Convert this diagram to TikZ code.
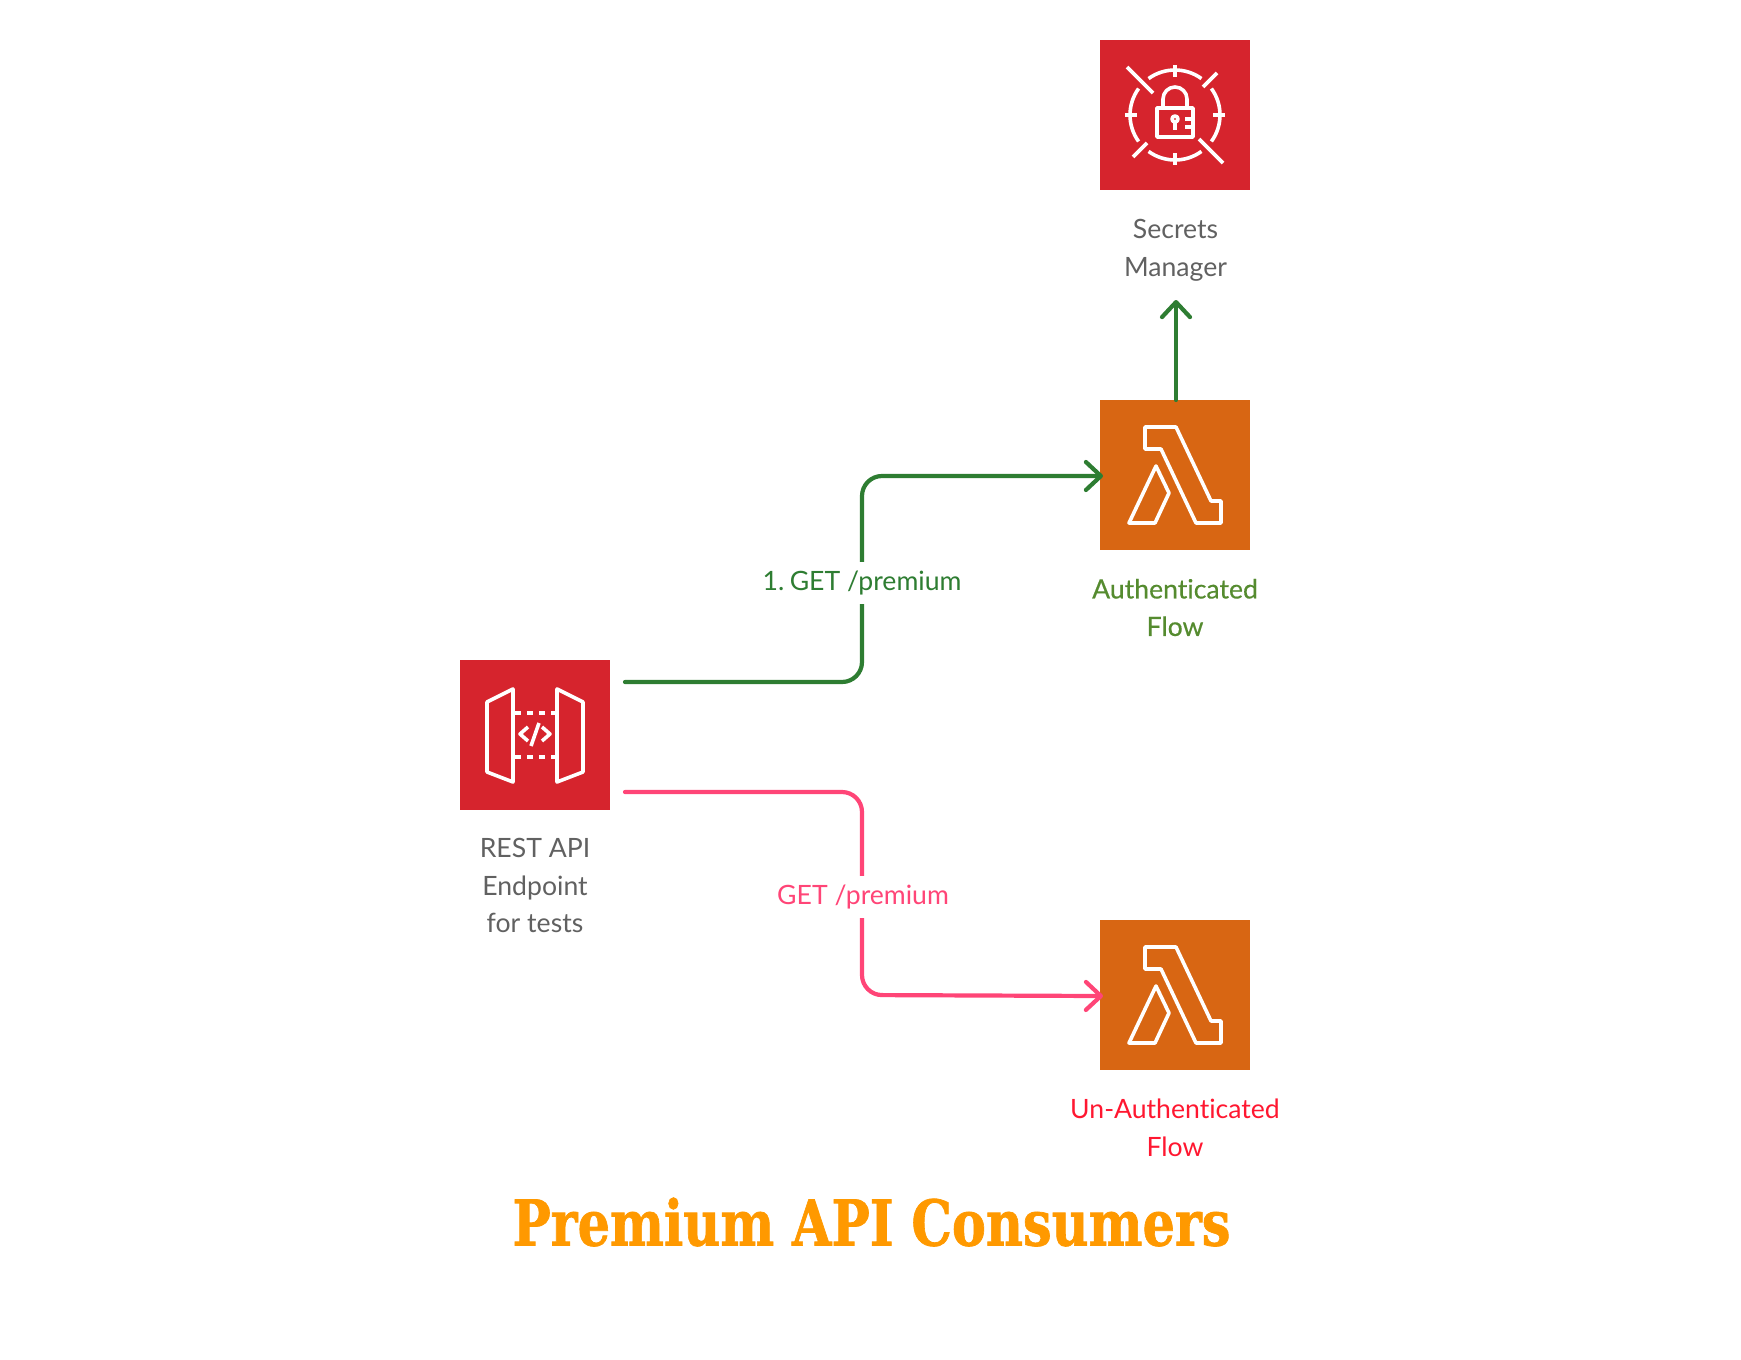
\documentclass[tikz,border=0pt]{standalone}
\usepackage{fontspec}
\setmainfont[Ligatures=NoCommon]{Lato}
\newfontfamily\medfont[Ligatures=NoCommon,FakeBold=0.35]{Lato}
\newfontfamily\titlefont[BoldFeatures={FakeBold=1.2}]{DejaVu Serif}
\usetikzlibrary{arrows.meta}
\definecolor{awsred}{HTML}{D6242D}
\definecolor{awsorange}{HTML}{D86613}
\definecolor{flowgreen}{HTML}{2E7D32}
\definecolor{flowpink}{HTML}{FF4577}
\definecolor{txtgrey}{HTML}{616161}
\definecolor{txtgreen}{HTML}{558B2F}
\definecolor{txtred}{HTML}{FF1730}
\definecolor{titleorange}{HTML}{FF9900}

\newcommand{\lambdaicon}[1]{
  \begin{scope}[shift={(#1)},icon]
    \draw (45,27) -- (76,27) -- (111,101) -- (121,101) -- (121,123) -- (96,123) -- (61,49) -- (45,49) -- cycle;
    \draw (29,123) -- (56,66) -- (69,93) -- (55,123) -- cycle;
  \end{scope}
}

\begin{document}
\begin{tikzpicture}[x=1pt,y=-1pt,
  awsbox/.style={minimum size=150pt,inner sep=0pt,outer sep=0pt},
  icon/.style={draw=white,line width=3.6pt,line join=round},
  lbl/.style={align=center,inner sep=0pt,font=\fontsize{26.6}{37.5}\selectfont},
  flowline/.style={line width=4.2pt,rounded corners=20pt,line cap=round,shorten >=-3pt,-{Straight Barb[round,length=15pt,width=28pt]}}]
\useasboundingbox (0,0) rectangle (1741,1360);

  \node[awsbox,fill=awsred]      (secrets) at (1175,115) {};
  \node[awsbox,fill=awsorange]   (lamAuth) at (1175,475) {};
  \node[awsbox,fill=awsred]      (gateway) at (535,735)  {};
  \node[awsbox,fill=awsorange]   (lamOpen) at (1175,995) {};

  \node[lbl,text=txtgrey]  (secretsTxt) at (1175.5,250.5) {Secrets\\Manager};
  \node[lbl,text=txtgreen] (lamAuthTxt) at (1175,607.5) {\medfont Authenticated\\\medfont Flow};
  \node[lbl,text=txtgrey]  (gatewayTxt) at (535,885.5)  {REST API\\Endpoint\\for tests};
  \node[lbl,text=txtred]   (lamOpenTxt) at (1175,1128) {Un-Authenticated\\Flow};

  \coordinate (gwGreen) at (625,682);
  \coordinate (gwPink)  at (625,792);
  \coordinate (lamAuthIn) at (1100,476);
  \coordinate (lamOpenIn) at (1100,996);
  \coordinate (lamAuthTop) at (1176,400);
  \coordinate (secretsIn) at (1176,303);

  % connectors
  \draw[flowline,flowgreen] (gwGreen) -- (862,682) -- (862,476) -- (lamAuthIn);
  \draw[flowline,flowpink]  (gwPink) -- (862,792) -- (862,995) -- (lamOpenIn);
  \draw[flowline,flowgreen] (lamAuthTop) -- (secretsIn);

  \node[lbl,text=flowgreen,fill=white,inner ysep=9pt] (getAuth) at (862,583) {1.\hspace{5.5pt}GET /premium};
  \node[lbl,text=flowpink,fill=white,inner ysep=9pt]  (getOpen) at (863,897) {GET /premium};

  % secrets icon
  \begin{scope}[shift={(1100,40)},icon]
    \draw (75,75) ++(126:45) arc[start angle=126,end angle=54,radius=45];
    \draw (75,75) ++(36:45) arc[start angle=36,end angle=-36,radius=45];
    \draw (75,75) ++(-54:45) arc[start angle=-54,end angle=-126,radius=45];
    \draw (75,75) ++(-144:45) arc[start angle=-144,end angle=-216,radius=45];
    \draw (75,25) -- (75,37);
    \draw (75,113) -- (75,125);
    \draw (25,75) -- (37,75);
    \draw (113,75) -- (125,75);
    \draw (27,27) -- (53,53);
    \draw (103,47) -- (117,33);
    \draw (33,117) -- (47,103);
    \draw (99,99) -- (123,123);
    \draw (57,68) rectangle (93,97);
    \draw (63,68) -- (63,59) arc[start angle=180,end angle=360,radius=12] -- (87,68);
    \draw (75,79) circle[radius=3];
    \draw (75,82) -- (75,90);
    \draw (85,79) -- (93,79);
    \draw (85,87) -- (93,87);
  \end{scope}

  % lambda icons
  \lambdaicon{1100,400}
  \lambdaicon{1100,920}

  % gateway icon
  \begin{scope}[shift={(460,660)},icon]
    \draw (27,42) -- (53,29) -- (53,122) -- (27,112) -- cycle;
    \draw (97,29) -- (123,42) -- (123,112) -- (97,122) -- cycle;
    \draw[dash pattern=on 6pt off 6pt] (55,53) -- (97,53);
    \draw[dash pattern=on 6pt off 6pt] (55,97) -- (97,97);
    \draw (68,67) -- (60,74) -- (68,81);
    \draw (82,67) -- (90,74) -- (82,81);
    \draw (79,63) -- (71,86);
  \end{scope}

  \node[inner sep=0pt,text=titleorange] (title) at (871.5,1222)
    {\resizebox{718pt}{48pt}{\titlefont\bfseries\fontsize{60}{60}\selectfont Premium API Consumers}};
\end{tikzpicture}
\end{document}
